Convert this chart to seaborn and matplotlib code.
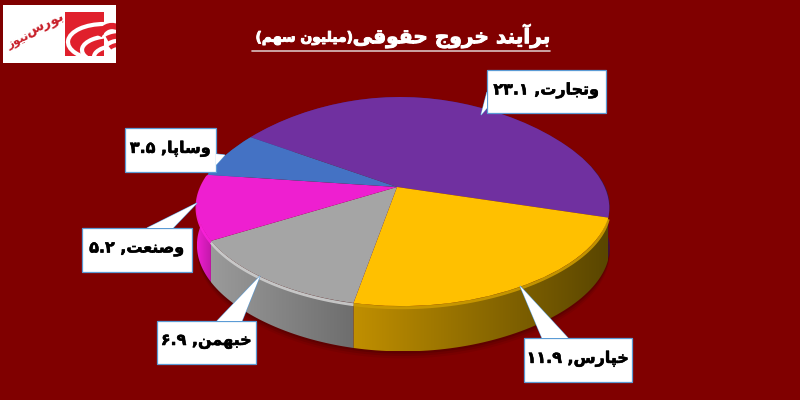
import numpy as np
import matplotlib
matplotlib.use("Agg")
import matplotlib.pyplot as plt
from matplotlib.colors import to_rgb
from matplotlib.patches import Arc, Polygon, Rectangle
from matplotlib.transforms import Transform
import matplotlib.patheffects as pe
import seaborn as sns

# Chart values, clockwise from the top of the purple slice
symbols = ["وتجارت", "خپارس", "خبهمن", "وصنعت", "وساپا"]
values = [23.1, 11.9, 6.9, 5.2, 3.5]
value_labels = ["۲۳.۱", "۱۱.۹", "۶.۹", "۵.۲", "۳.۵"]
slice_colors = ["#7030A0", "#FFC000", "#A5A5A5", "#EE1FD0", "#4472C4"]
title_main = "برآیند خروج حقوقی"
title_unit = "(میلیون سهم)"
logo_words = ["بورس", "نیوز"]

BG = "#800000"
sns.set_theme(style="white", rc={"figure.facecolor": BG, "axes.facecolor": BG})
plt.rcParams["font.family"] = ["DejaVu Sans"]

# Arabic presentation forms: isolated, final, initial, medial
FORMS = {
    "ا": (0xFE8D, 0xFE8E), "آ": (0xFE81, 0xFE82), "د": (0xFEA9, 0xFEAA),
    "ر": (0xFEAD, 0xFEAE), "ز": (0xFEAF, 0xFEB0), "و": (0xFEED, 0xFEEE),
    "ب": (0xFE8F, 0xFE90, 0xFE91, 0xFE92), "پ": (0xFB56, 0xFB57, 0xFB58, 0xFB59),
    "ت": (0xFE95, 0xFE96, 0xFE97, 0xFE98), "ج": (0xFE9D, 0xFE9E, 0xFE9F, 0xFEA0),
    "ح": (0xFEA1, 0xFEA2, 0xFEA3, 0xFEA4), "خ": (0xFEA5, 0xFEA6, 0xFEA7, 0xFEA8),
    "س": (0xFEB1, 0xFEB2, 0xFEB3, 0xFEB4), "ص": (0xFEB9, 0xFEBA, 0xFEBB, 0xFEBC),
    "ع": (0xFEC9, 0xFECA, 0xFECB, 0xFECC), "ق": (0xFED5, 0xFED6, 0xFED7, 0xFED8),
    "ل": (0xFEDD, 0xFEDE, 0xFEDF, 0xFEE0), "م": (0xFEE1, 0xFEE2, 0xFEE3, 0xFEE4),
    "ن": (0xFEE5, 0xFEE6, 0xFEE7, 0xFEE8), "ه": (0xFEE9, 0xFEEA, 0xFEEB, 0xFEEC),
    "ی": (0xFBFC, 0xFBFD, 0xFBFE, 0xFBFF),
}

# matplotlib has no shaping, so join the letters by hand and reverse them
def shape(text):
    out = []
    for i, ch in enumerate(text):
        if ch not in FORMS:
            out.append(ch)
            continue
        prev = text[i - 1] if i > 0 else " "
        nxt = text[i + 1] if i + 1 < len(text) else " "
        joins_prev = prev in FORMS and len(FORMS[prev]) == 4
        joins_next = nxt in FORMS and len(FORMS[ch]) == 4
        forms = FORMS[ch]
        if joins_prev and joins_next:
            out.append(chr(forms[3]))
        elif joins_next:
            out.append(chr(forms[2]))
        elif joins_prev:
            out.append(chr(forms[1]))
        else:
            out.append(chr(forms[0]))
    text = "".join(out)[::-1]
    return text.replace("(", "\0").replace(")", "(").replace("\0", ")")


# Tilted disc: unit circle to pixels, narrower towards the back
class Persp(Transform):
    input_dims = 2
    output_dims = 2
    has_inverse = False

    def __init__(self, drop=0.0):
        super().__init__()
        self.drop = drop

    def transform_non_affine(self, pts):
        pts = np.asarray(pts, float)
        u, v = pts[:, 0], pts[:, 1]
        wx = 1 + 0.22 * v + 0.1 * v ** 2 - 0.03 * u
        wy = 1 + 0.139 * v - 0.02 * u
        return np.column_stack([397 + 202 * u / wx, 187 - 102.5 * v / wy + self.drop / wy])


def persp_points(angles, drop=0.0):
    rad = np.radians(angles)
    return Persp(drop).transform_non_affine(np.column_stack([np.cos(rad), np.sin(rad)]))


fig = plt.figure(figsize=(8, 4), dpi=100)
ax = fig.add_axes([0, 0, 1, 1])

wedges, _ = ax.pie(values, colors=slice_colors, startangle=148, counterclock=False,
                   center=(0, 0), radius=1, wedgeprops={"linewidth": 0})
ax.set_aspect("auto")
ax.set_frame_on(False)

DEPTH = 39

# soft shadow under the disc
rim = np.linspace(0, 360, 200)
for grow, alpha in [(6, 0.06), (4, 0.09), (2, 0.12)]:
    ax.add_patch(Polygon(persp_points(rim, DEPTH + grow), closed=True, fc="black", ec="none",
                         alpha=alpha, zorder=1))

# (colour at the left end of the wall, colour at the right end)
wall_shades = {
    "#7030A0": ("#4A2070", "#33174F"),
    "#FFC000": ("#C08F00", "#5A4600"),
    "#A5A5A5": ("#9A9A9A", "#6E6E6E"),
    "#EE1FD0": ("#EE1FD0", "#C018A8"),
    "#4472C4": ("#35599A", "#2A4780"),
}

for wedge, color in zip(wedges, slice_colors):
    arc = np.linspace(wedge.theta1, wedge.theta2, 60)
    top = persp_points(arc)
    bottom = persp_points(arc, DEPTH)
    outline = np.vstack([top, bottom[::-1]])
    clip = Polygon(outline, closed=True, fc="none", ec="none", transform=ax.transData)
    ax.add_patch(clip)
    left, right = wall_shades[color]
    ramp = np.linspace(to_rgb(left), to_rgb(right), 64)[None, :, :]
    image = ax.imshow(ramp, extent=(outline[:, 0].min(), outline[:, 0].max(),
                                    outline[:, 1].max(), outline[:, 1].min()),
                      aspect="auto", zorder=2, interpolation="bilinear")
    image.set_clip_path(clip)
ax.set_xlim(0, 800)
ax.set_ylim(400, 0)

# top face, drawn by pie and then tilted
for wedge in wedges:
    wedge.set_transform(Persp() + ax.transData)
    wedge.set_zorder(4)

# bevel along the front of the disc
bevel_tints = {"#FFC000": 0.8, "#A5A5A5": 1.25, "#EE1FD0": 1.05}
for wedge, color in zip(wedges, slice_colors):
    if color not in bevel_tints:
        continue
    arc = np.linspace(wedge.theta1, wedge.theta2, 60)
    pts = persp_points(arc, 1.5)
    ax.plot(pts[:, 0], pts[:, 1], color=np.clip(np.array(to_rgb(color)) * bevel_tints[color], 0, 1),
            lw=2.0, zorder=3, solid_capstyle="butt", alpha=0.9)

# Title with its underline
heavy = [pe.withStroke(linewidth=0.7, foreground="white")]
ax.text(551, 36, shape(title_main), ha="right", va="center", color="white",
        fontsize=14.5, fontweight="bold", zorder=6, path_effects=heavy)
ax.text(353, 38, shape(title_unit), ha="right", va="center", color="white",
        fontsize=10, fontweight="bold", zorder=6, path_effects=heavy)
ax.plot([252, 550], [50.5, 50.5], color="#D9BFBF", lw=1.2, zorder=6)

# Callouts: box (x0, y0, x1, y1) and tail points
label_boxes = [
    (487, 70, 606, 113),
    (524, 338, 632, 382),
    (157, 321, 256, 364),
    (82, 228, 192, 272),
    (125, 128, 216, 172),
]
label_tails = [
    [(487, 92), (481, 115), (487, 108)],
    [(542, 338), (520, 286), (568, 338)],
    [(217, 321), (260, 276), (242, 321)],
    [(147, 228), (197, 203), (173, 228)],
    [(216, 154), (225, 155), (216, 165)],
]
ink = [pe.withStroke(linewidth=0.4, foreground="black")]
for name, val, box, tail in zip(symbols, value_labels, label_boxes, label_tails):
    x0, y0, x1, y1 = box
    ax.add_patch(Rectangle((x0, y0), x1 - x0, y1 - y0, fc="white", ec="#5B9BD5", lw=0.9, zorder=7))
    ax.add_patch(Polygon(tail, closed=True, fc="white", ec="#5B9BD5", lw=0.8, zorder=6))
    ax.add_patch(Polygon(tail, closed=True, fc="white", ec="none", zorder=8))
    ax.text((x0 + x1) / 2, (y0 + y1) / 2 - 1, val + " ," + shape(name), ha="center", va="center",
            color="black", fontsize=11.5, fontweight="bold", zorder=9, path_effects=ink)

# Logo
RED = "#E0202C"
logo_card = Rectangle((3, 5), 113, 58, fc="white", ec="none", zorder=5)
ax.add_patch(logo_card)
ax.add_patch(Rectangle((64.5, 11.5), 39.5, 44.5, fc=RED, ec="none", zorder=6))
# white curves cut into the square, red bands run on past its right edge
for center, w, h, lw, t1, t2, col in [
    ((104, 42), 72, 36, 3.0, 110, 270, "white"),
    ((112, 50), 60, 28, 3.0, 120, 270, "white"),
    ((116, 57), 44, 22, 3.0, 150, 270, "white"),
    ((112, 45), 30, 38, 4.5, 215, 285, RED),
    ((118, 50), 36, 28, 4.0, 225, 282, RED),
    ((118, 56), 24, 22, 3.0, 225, 280, RED),
]:
    band = Arc(center, w, h, theta1=t1, theta2=t2, color=col, lw=lw, zorder=6)
    ax.add_patch(band)
    band.set_clip_path(logo_card)
ax.text(45, 25, shape(logo_words[0]), ha="center", va="center", color="#C8202A",
        fontsize=10, fontweight="bold", rotation=25, zorder=6)
ax.text(18, 41, shape(logo_words[1]), ha="center", va="center", color="#C8202A",
        fontsize=8.5, fontweight="bold", rotation=25, zorder=6)

fig.savefig("out.png", dpi=100, facecolor=BG)
